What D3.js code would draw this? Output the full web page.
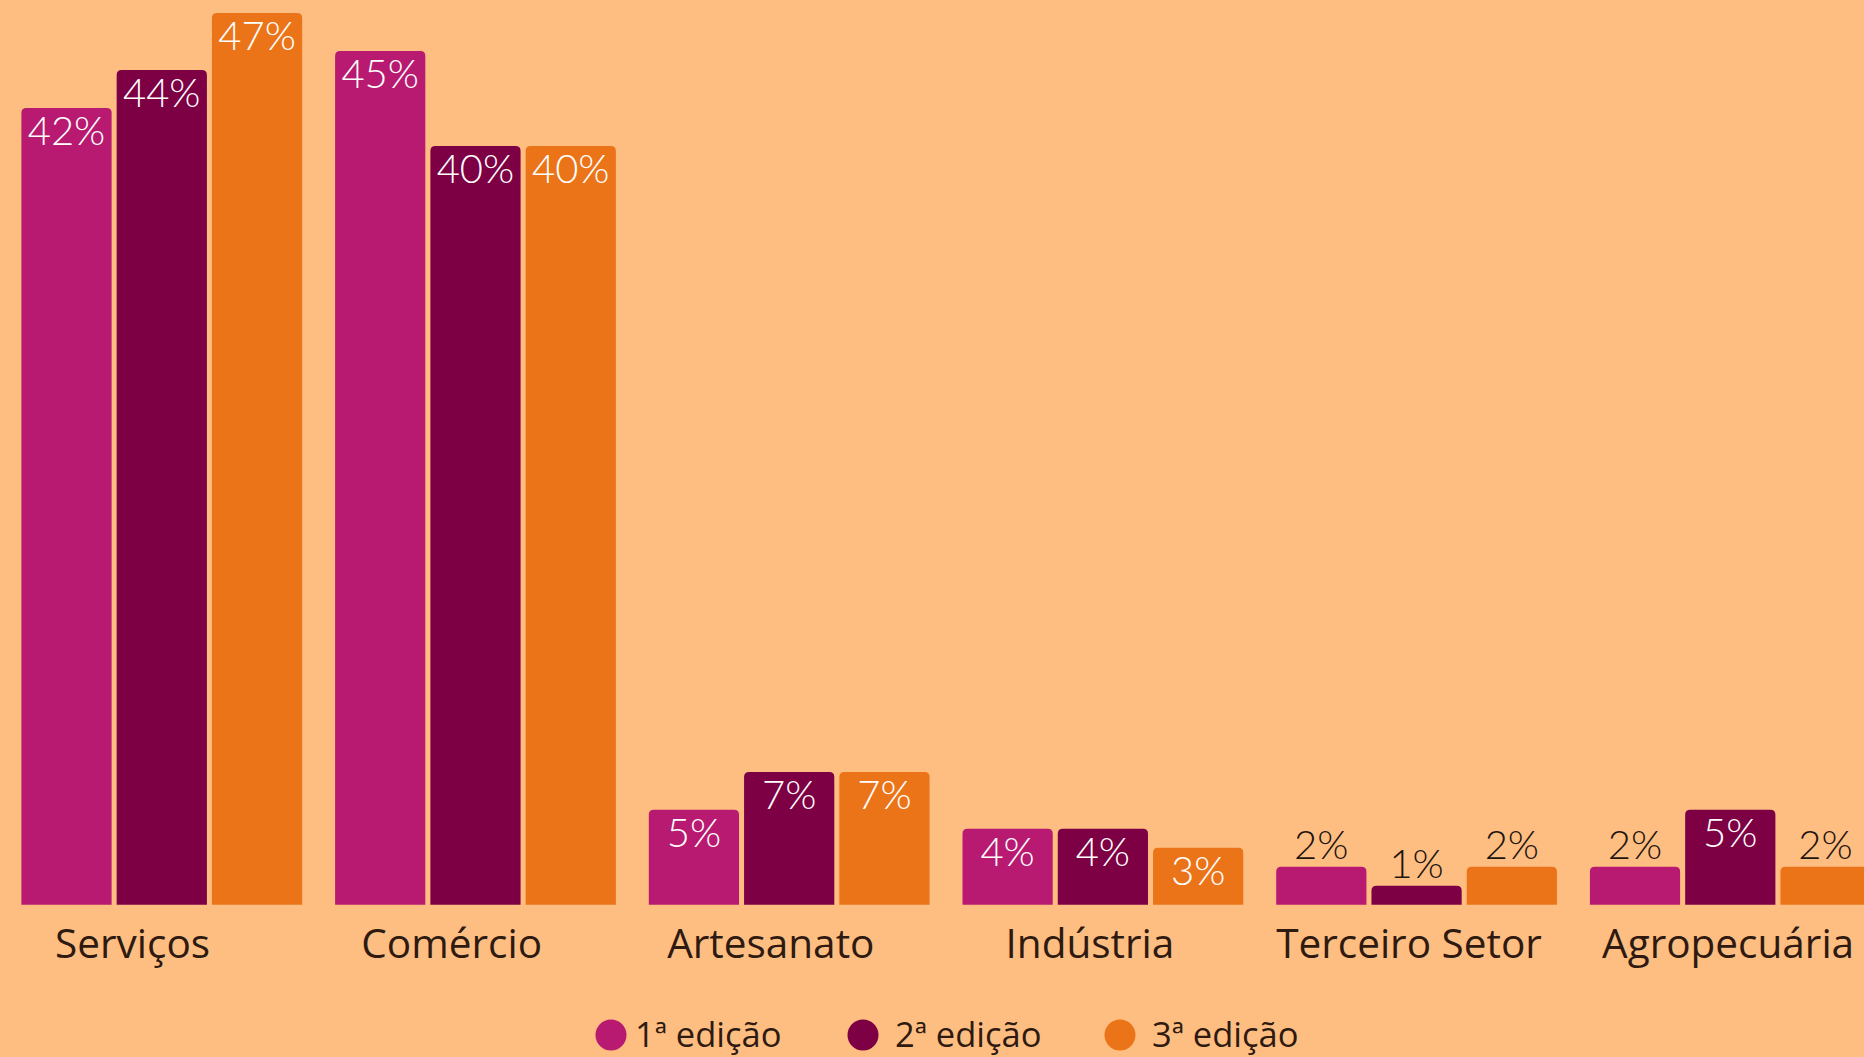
<!DOCTYPE html>
<html>
<head>
<meta charset="utf-8">
<script src="https://cdn.jsdelivr.net/npm/d3@7"></script>
<style>
  html, body { margin: 0; padding: 0; background: #FEBE82; overflow: hidden; }
  svg { display: block; }
</style>
</head>
<body>
<svg id="chart" width="1864" height="1057"></svg>
<script>
// Sectors and editions
const categories = ["Serviços", "Comércio", "Artesanato", "Indústria", "Terceiro Setor", "Agropecuária"];
const series = ["1ª edição", "2ª edição", "3ª edição"];
const edicao1 = [42, 45, 5, 4, 2, 2];
const edicao2 = [44, 40, 7, 4, 1, 5];
const edicao3 = [47, 40, 7, 3, 2, 2];
const seriesValues = [edicao1, edicao2, edicao3];
const colors = ["#B71A70", "#7D0044", "#EB7419"];

const svg = d3.select("#chart");
const W = 1864, H = 1057;
svg.append("rect").attr("width", W).attr("height", H).attr("fill", "#FEBE82");

const baseline = 904.7;
const y = d3.scaleLinear().domain([0, 47]).range([baseline, baseline - 47 * 18.97]);

const groupStep = 313.7, groupPad = 0.105;
const x0 = d3.scaleBand()
  .domain(categories)
  .range([21.4, 21.4 + groupStep * (categories.length - groupPad)])
  .paddingInner(groupPad).paddingOuter(0);
const x1 = d3.scaleBand()
  .domain(series)
  .range([0, x0.bandwidth()])
  .paddingInner(0.053);

// Category labels sit on their own evenly spaced positions
const xl = d3.scalePoint()
  .domain(categories)
  .range([132.6, 132.6 + 5 * 319.1]);

const rows = [];
categories.forEach((c, ci) => {
  series.forEach((s, si) => {
    rows.push({ cat: c, ser: s, si, value: seriesValues[si][ci] });
  });
});

function topRounded(x, yTop, w, h, r) {
  r = Math.min(r, h, w / 2);
  return `M${x},${yTop + h}V${yTop + r}Q${x},${yTop} ${x + r},${yTop}` +
         `H${x + w - r}Q${x + w},${yTop} ${x + w},${yTop + r}V${yTop + h}Z`;
}

const bars = svg.append("g");
bars.selectAll("path").data(rows).join("path")
  .attr("d", d => {
    const bx = x0(d.cat) + x1(d.ser);
    const by = y(d.value);
    return topRounded(bx, by, x1.bandwidth(), baseline - by, 5);
  })
  .attr("fill", d => colors[d.si]);

const valueFont = "Lato, 'Noto Sans', sans-serif";
const labelFont = "'Open Sans', 'Noto Sans', sans-serif";
bars.selectAll("text").data(rows).join("text")
  .attr("x", d => x0(d.cat) + x1(d.ser) + x1.bandwidth() / 2)
  .attr("y", d => d.value >= 3 ? y(d.value) + 37 : y(d.value) - 8)
  .attr("text-anchor", "middle")
  .attr("font-family", valueFont)
  .attr("font-weight", 300)
  .attr("font-size", 40)
  .attr("fill", d => d.value >= 3 ? "#FFFFFF" : "#1E1410")
  .text(d => d.value + "%");

// Category axis labels
svg.append("g").selectAll("text").data(categories).join("text")
  .attr("x", d => xl(d))
  .attr("y", 958)
  .attr("text-anchor", "middle")
  .attr("font-family", labelFont)
  .attr("font-weight", 400)
  .attr("font-size", 40.5)
  .attr("fill", "#2E1A10")
  .text(d => d);

// Legend
const legendX = [611, 863, 1120];
const legendGap = [24, 32, 32];
const legend = svg.append("g").selectAll("g").data(series).join("g")
  .attr("transform", (d, i) => `translate(${legendX[i]},1035)`);
legend.append("circle").attr("r", 15.5).attr("fill", (d, i) => colors[i]);
legend.append("text")
  .attr("x", (d, i) => legendGap[i]).attr("y", 12)
  .attr("font-family", labelFont)
  .attr("font-weight", 400)
  .attr("font-size", 34.5)
  .attr("fill", "#2E1A10")
  .text(d => d);
</script>
</body>
</html>
